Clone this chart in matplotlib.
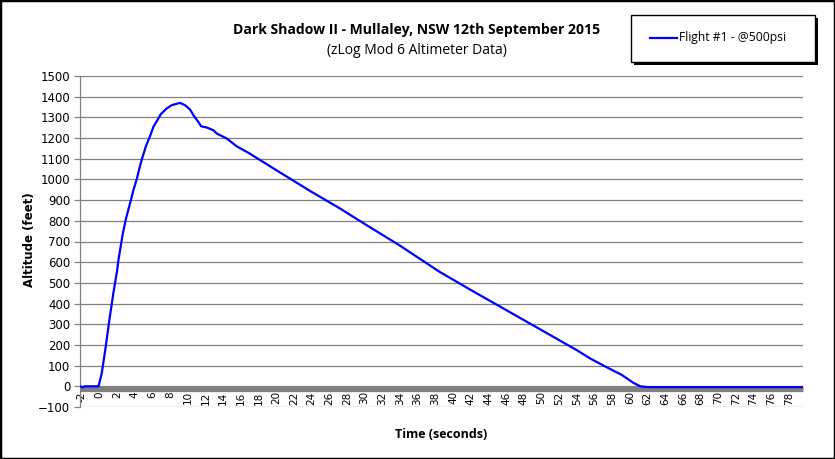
import matplotlib
matplotlib.use('Agg')
import matplotlib.pyplot as plt
from matplotlib.patches import Rectangle
from matplotlib.lines import Line2D

# ---------------------------------------------------------------------------
# Дані висотоміра (час у секундах, висота у футах)
time_s = [-2.2, -1.9, -1.7, -0.1, 0.26, 0.71, 1.12, 1.57, 2.0, 2.13, 2.63,
          3.0, 3.46, 3.84, 4.21, 4.50, 4.78, 5.27, 5.72, 6.1, 6.55, 6.93,
          7.61, 8.18, 9.12, 9.68, 10.25, 10.7, 11.19, 11.5, 12.14, 12.89,
          13.27, 14.4, 15.5, 17.0, 20.0, 24.0, 27.2, 30.0, 34.0, 38.5,
          42.0, 46.0, 50.0, 54.0, 55.5, 57.4, 59.1, 60.4, 61.2, 62.0, 79.6]
altitude_ft = [0, -5, 0, 0, 63, 191, 320, 449, 560, 605, 735,
               810, 884, 948, 1000, 1050, 1095, 1162, 1209, 1254, 1286, 1315,
               1343, 1359, 1370, 1359, 1338, 1306, 1278, 1257, 1251, 1238,
               1222, 1198, 1161, 1125, 1045, 940, 860, 785, 680, 553,
               466, 369, 272, 175, 135, 92, 55, 17, 0, -4, -4]

x_ticks = list(range(-2, 80, 2))
y_ticks = list(range(-100, 1600, 100))

title = 'Dark Shadow II - Mullaley, NSW 12th September 2015'
subtitle = '(zLog Mod 6 Altimeter Data)'
legend_label = 'Flight #1 - @500psi'

W, H = 835, 459
GRID = '#808080'

fig = plt.figure(figsize=(W / 100, H / 100), dpi=100)
ax = fig.add_axes([80 / W, 1 - 407 / H, (803 - 80) / W, (407 - 76) / H])

ax.plot(time_s, altitude_ft, color='#0000FF', lw=1.6, zorder=3,
        solid_joinstyle='round')

# вісь X перетинає вісь Y у нулі (товста сіра лінія)
ax.spines['bottom'].set_position(('data', -11))
ax.spines['bottom'].set_color(GRID)
ax.spines['bottom'].set_linewidth(3.8)
ax.spines['bottom'].set_capstyle('butt')
ax.spines['left'].set_color(GRID)
ax.spines['left'].set_linewidth(0.9)
ax.spines['top'].set_visible(False)
ax.spines['right'].set_visible(False)

ax.set_xlim(-2.2, 79.6)
ax.set_ylim(-100, 1500)
ax.set_yticks(y_ticks)
ax.set_xticks(x_ticks)
ax.set_xticklabels([str(t) for t in x_ticks])
ax.yaxis.grid(True, color=GRID, lw=0.9)
ax.set_axisbelow(True)

ax.tick_params(axis='x', length=0, pad=2, labelsize=7.5, labelrotation=90)
ax.tick_params(axis='y', length=4, width=0.9, color=GRID, labelsize=8.5, pad=3)
for lab in ax.get_xticklabels():
    lab.set_va('top')
    lab.set_family('DejaVu Sans')
for lab in ax.get_yticklabels():
    lab.set_family('DejaVu Sans')

fig.text(30 / W, 1 - 240 / H, 'Altitude (feet)', rotation=90, ha='center',
         va='center', fontsize=8.5, fontweight='bold', family='DejaVu Sans')
fig.text(441 / W, 1 - 434 / H, 'Time (seconds)', ha='center', va='center',
         fontsize=9, fontweight='bold', family='Open Sans')

fig.text(417 / W, 1 - 30 / H, title, ha='center', va='center',
         fontsize=10.1, fontweight='bold', family='Open Sans')
fig.text(417 / W, 1 - 50 / H, subtitle, ha='center', va='center',
         fontsize=10, family='Open Sans')

# легенда з тінню, як у Excel
bx, by, bw, bh = 631, 15, 184, 47
fig.add_artist(Rectangle(((bx + 3) / W, 1 - (by + bh + 3) / H), bw / W, bh / H,
                         transform=fig.transFigure, facecolor='black',
                         edgecolor='black', lw=0))
fig.add_artist(Rectangle((bx / W, 1 - (by + bh) / H), bw / W, bh / H,
                         transform=fig.transFigure, facecolor='white',
                         edgecolor='black', lw=1.0))
fig.add_artist(Line2D([650 / W, 677 / W], [1 - 38 / H, 1 - 38 / H],
                      transform=fig.transFigure, color='#0000FF', lw=1.6))
fig.text(679 / W, 1 - 38 / H, legend_label, ha='left', va='center',
         fontsize=8.7, family='Open Sans')

# рамка навколо всього рисунка
fig.add_artist(Rectangle((0, 0), 1, 1, transform=fig.transFigure,
                         fill=False, edgecolor='black', lw=2.5))

fig.savefig('out.png', dpi=100)
